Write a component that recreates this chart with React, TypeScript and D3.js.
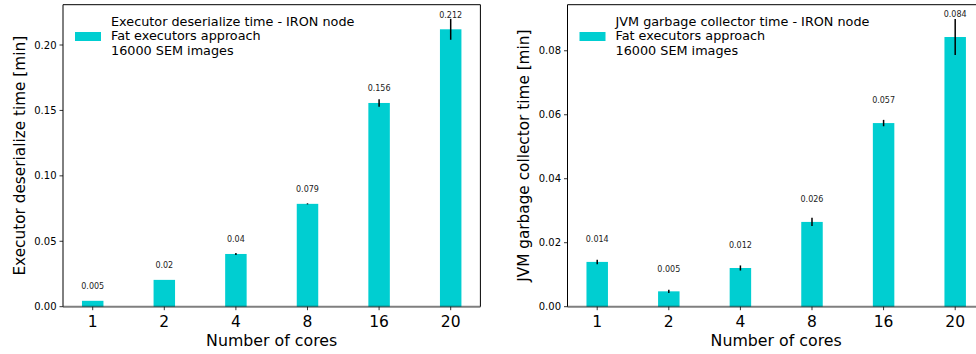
import React from 'react';
import * as d3 from 'd3';

const cores = ['1', '2', '4', '8', '16', '20'];

const deserMeans = [0.0045, 0.0205, 0.0403, 0.0786, 0.1557, 0.212];
const deserErr = [0, 0, 0.0007, 0.0004, 0.0028, 0.008];
const deserLabels = ['0.005', '0.02', '0.04', '0.079', '0.156', '0.212'];
const deserTicks = [0, 0.05, 0.1, 0.15, 0.2];

const gcMeans = [0.014, 0.0048, 0.0121, 0.0265, 0.0574, 0.0843];
const gcErr = [0.0007, 0.0005, 0.0008, 0.0013, 0.001, 0.0056];
const gcLabels = ['0.014', '0.005', '0.012', '0.026', '0.057', '0.084'];
const gcTicks = [0, 0.02, 0.04, 0.06, 0.08];

const legendLines2 = ['Fat executors approach', '16000 SEM images'];

const FONT = 'DejaVu Sans, sans-serif';
const BAR = '#00CED1';

type PanelProps = {
  x0: number;
  yMax: number;
  means: number[];
  errs: number[];
  labels: string[];
  ticks: number[];
  labelOffset: number;
  yLabel: string;
  legendTitle: string;
};

function Panel({ x0, yMax, means, errs, labels, ticks, labelOffset, yLabel, legendTitle }: PanelProps) {
  const top = 4.7;
  const bottom = 306.7;
  const width = 417.4;
  const x = d3.scaleLinear().domain([-0.415, cores.length - 1 + 0.415]).range([x0, x0 + width]);
  const y = d3.scaleLinear().domain([0, yMax]).range([bottom, top]);
  const bw = x(0.3) - x(0);
  const fmt = d3.format('.2f');
  return (
    <g fontFamily={FONT}>
      {means.map((m, i) => (
        <rect key={'b' + i} x={x(i) - bw / 2} y={y(m)} width={bw} height={y(0) - y(m)} fill={BAR} />
      ))}
      {means.map((m, i) =>
        errs[i] > 0 ? (
          <line key={'e' + i} x1={x(i)} x2={x(i)} y1={y(m - errs[i])} y2={y(m + errs[i])} stroke="#000" strokeWidth={1.5} />
        ) : null
      )}
      {means.map((m, i) => (
        <text key={'l' + i} x={x(i)} y={y(m + labelOffset)} fontSize={8} textAnchor="middle" dominantBaseline="central" fill="#222">
          {labels[i]}
        </text>
      ))}
      {/* spines */}
      <line x1={x0} x2={x0} y1={top} y2={bottom} stroke="#000" strokeWidth={1} />
      <line x1={x0} x2={x0 + width} y1={top} y2={top} stroke="#000" strokeWidth={1} />
      <line x1={x0 + width} x2={x0 + width} y1={top} y2={bottom} stroke="#000" strokeWidth={1} />
      <line x1={x0} x2={x0 + width} y1={bottom} y2={bottom} stroke="#000" strokeOpacity={0.5} strokeWidth={2} />
      {/* y ticks */}
      {ticks.map((t) => (
        <g key={'t' + t}>
          <line x1={x0 - 3.5} x2={x0} y1={y(t)} y2={y(t)} stroke="#000" strokeWidth={0.8} />
          <text x={x0 - 6.5} y={y(t)} fontSize={10} textAnchor="end" dominantBaseline="central" fill="#000">
            {fmt(t)}
          </text>
        </g>
      ))}
      {/* x ticks */}
      {cores.map((c, i) => (
        <g key={'x' + c}>
          <line x1={x(i)} x2={x(i)} y1={bottom} y2={bottom + 3.5} stroke="#000" strokeWidth={0.8} />
          <text x={x(i)} y={327.3} fontSize={15.5} textAnchor="middle" fill="#000">
            {c}
          </text>
        </g>
      ))}
      <text x={x0 + width / 2} y={346.3} fontSize={15.8} textAnchor="middle" fill="#000">
        Number of cores
      </text>
      <text
        transform={`translate(${x0 - 43.5},${(top + bottom) / 2}) rotate(-90)`}
        fontSize={15.3}
        textAnchor="middle"
        dominantBaseline="central"
        fill="#000"
      >
        {yLabel}
      </text>
      {/* legend */}
      <rect x={x0 + 12} y={32} width={26} height={9} fill={BAR} />
      {[legendTitle, ...legendLines2].map((s, i) => (
        <text key={'lg' + i} x={x0 + 48} y={21.3 + i * 14.4} fontSize={12.8} dominantBaseline="central" fill="#000">
          {s}
        </text>
      ))}
    </g>
  );
}

export default function App() {
  return (
    <svg width={976} height={354} style={{ position: 'absolute', left: 0, top: 0, background: '#fff' }}>
      <rect width={976} height={354} fill="#fff" />
      <Panel
        x0={63}
        yMax={0.2308}
        means={deserMeans}
        errs={deserErr}
        labels={deserLabels}
        ticks={deserTicks}
        labelOffset={0.0107}
        yLabel="Executor deserialize time [min]"
        legendTitle="Executor deserialize time - IRON node"
      />
      <Panel
        x0={567.5}
        yMax={0.0944}
        means={gcMeans}
        errs={gcErr}
        labels={gcLabels}
        ticks={gcTicks}
        labelOffset={0.0069}
        yLabel="JVM garbage collector time [min]"
        legendTitle="JVM garbage collector time - IRON node"
      />
    </svg>
  );
}
